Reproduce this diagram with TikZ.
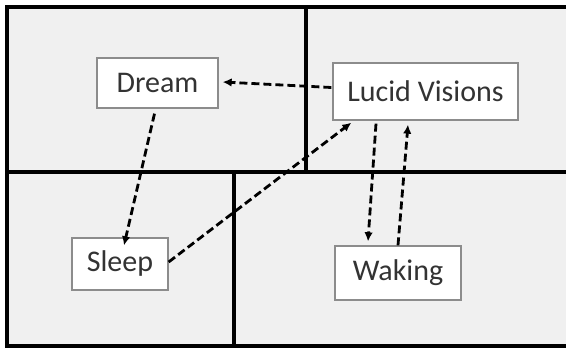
\documentclass[tikz,border=0pt]{standalone}
\usepackage{fontspec}
\setmainfont{Carlito}
\usetikzlibrary{calc,arrows.meta}
\begin{document}
\begin{tikzpicture}[x=1pt,y=1pt,
  frameline/.style={line width=3.5pt,black},
  state/.style={draw=black!45,line width=1.3pt,fill=white,inner sep=0pt,
    font=\fontsize{30}{31}\selectfont,text=black!80},
  flow/.style={line width=2.8pt,dash pattern=on 8pt off 4pt,
    -{Latex[length=9pt,width=8.5pt]}}]
  \useasboundingbox (0,0) rectangle (566,349);
  % panel background and dividing lines
  \fill[white] (0,0) rectangle (566,349);
  \fill[black!6] (7,3) rectangle (570,342);
  \draw[frameline] (570,342) -- (7,342) -- (7,3) -- (570,3);
  \draw[frameline] (7,177) -- (570,177);
  \draw[frameline] (306,342) -- (306,177);
  \draw[frameline] (234,177) -- (234,3);
  % states
  \node[state,minimum width=121pt,minimum height=50pt] (dream) at (157.5,266) {Dream\hspace{12pt}};
  \node[state,minimum width=185pt,minimum height=57pt] (lucid) at (425.5,257.5) {Lucid Visions};
  \node[state,minimum width=96pt,minimum height=52pt] (sleep) at (120,85) {Sleep};
  \node[state,minimum width=126pt,minimum height=54pt] (waking) at (398,76) {Waking};
  % transitions
  \draw[flow] ($(lucid.west)+(-1,4)$) -- ($(dream.east)+(4,1)$);
  \draw[flow] ($(dream.south)+(-3,-5)$) -- ($(sleep.north)+(4,-8)$);
  \draw[flow] ($(sleep.east)+(0,2)$) -- ($(lucid.south west)+(19,-2)$);
  \draw[flow] ($(lucid.south)+(-49.5,-3)$) -- ($(waking.north)+(-30,4)$);
  \draw[flow] ($(waking.north)+(0,0)$) -- ($(lucid.south)+(-17.5,-4)$);
\end{tikzpicture}
\end{document}
